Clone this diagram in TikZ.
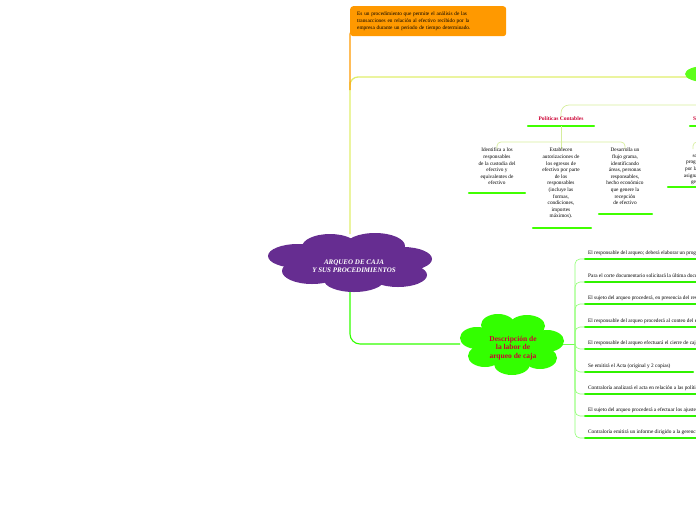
\documentclass[tikz,border=0pt]{standalone}
\usepackage{fontspec}
\setmainfont{Liberation Serif}
\begin{document}
\begin{tikzpicture}[x=1pt,y=-1pt,
  yl/.style={draw=yellow!60!green!40!white, line width=0.7pt, rounded corners=8pt},
  lime/.style={draw=green!90!black!90, line width=0.7pt, rounded corners=8pt},
  ul/.style={line width=2.3pt, draw=green!75!yellow, line cap=round},
  ulb/.style={line width=2.3pt, draw=green!90!black!80, line cap=round},
  tx/.style={font=\fontsize{5.3}{6.6}\selectfont, align=center, inner sep=0},
  it/.style={font=\fontsize{5.3}{6}\selectfont, anchor=west, inner sep=0}]
\useasboundingbox (0,0) rectangle (696,520);
\clip (0,0) rectangle (696,520);
\definecolor{purp}{HTML}{662D91}
\definecolor{org}{HTML}{FF9900}
\definecolor{lg}{HTML}{33FF00}
\definecolor{tred}{HTML}{CC0033}
% connectors
\coordinate (ctop) at (350,234);
\coordinate (cbot) at (350,290);
\draw[yl, line width=1.3pt, draw=yellow!80!green!60] (ctop) -- (350,90) -- (350,77) -- (690,77);
\draw[org, line width=1.3pt, rounded corners=4pt] (350,90) -- (350,30) -- (356,30);
\draw[lg, line width=1.1pt, rounded corners=10pt] (cbot) -- (350,344) -- (460,344);
% orange box
\node[fill=org, rounded corners=3pt, minimum width=155pt, minimum height=30pt, inner xsep=7pt, font=\fontsize{5.3}{6.6}\selectfont, align=left, text width=142pt, anchor=north west] (def) at (350,6)
 {Es un procedimiento que permite el análisis de las\\transacciones en relación al efectivo recibido por la\\empresa durante un periodo de tiempo determinado.};
% top-right lime ellipse
\fill[green!70!yellow!90] (705,74) ellipse (20 and 8);
% policies
\draw[yl] (561,119) -- (561,105) -- (696,105);
\node[font=\fontsize{5.5}{6}\selectfont\bfseries, text=tred, inner sep=0] (pol) at (561,119) {Políticas Contables};
\draw[ul] (528,126) -- (594,126);
\node[font=\fontsize{5.5}{6}\selectfont\bfseries, text=tred, inner sep=0, anchor=west] (s2) at (693,119) {S};
\draw[ul] (690,126) -- (700,126);
\draw[yl, rounded corners=4pt] (561,126) -- (561,142);
\draw[yl, rounded corners=4pt] (497,149) -- (497,142) -- (625,142) -- (625,149);
\draw[yl] (561,142) -- (561,149);
\draw[yl, rounded corners=4pt] (693,149) -- (693,142) -- (700,142);
\node[tx, anchor=north] (p1) at (497,148) {Identifica a los\\responsables\\de la custodia del\\efectivo y\\equivalentes de\\efectivo};
\draw[ul] (469,193) -- (525,193);
\node[tx, anchor=north] (p2) at (561,148) {Establecen\\autorizaciones de\\los egresos de\\efectivo por parte\\de los\\responsables\\(incluye las\\formas,\\condiciones,\\importes\\máximos).};
\draw[ul] (533,228) -- (591,228);
\node[tx, anchor=north] (p3) at (625,148) {Desarrolla un\\flujo grama,\\identificando\\áreas, personas\\responsables,\\hecho económico\\que genere la\\recepción\\de efectivo};
\draw[ul] (599,214) -- (652,214);
\node[tx, anchor=north] (p4) at (700,148) {\phantom{x}\\son los\\programados\\por la jefatura\\asignada por la\\gerencia};
\draw[ul] (668,187) -- (700,187);
% purple cloud
\begin{scope}[fill=purp]
\fill (330,247) ellipse (28 and 13);
\fill (375,246) ellipse (30 and 13);
\fill (298,256) ellipse (30 and 12);
\fill (403,259) ellipse (29 and 12);
\fill (312,271) ellipse (30 and 13);
\fill (398,275) ellipse (29 and 12);
\fill (354,280) ellipse (30 and 12);
\fill (350,262) ellipse (60 and 18);
\end{scope}
\node[tx, text=white, font=\fontsize{7}{8}\selectfont\itshape\bfseries] (root) at (354,266) {ARQUEO DE CAJA\\Y SUS PROCEDIMIENTOS};
% green cloud
\begin{scope}[fill=lg]
\fill (498,325) ellipse (17 and 11);
\fill (527,326) ellipse (18 and 11);
\fill (477,338) ellipse (17 and 11);
\fill (547,341) ellipse (17 and 11);
\fill (485,356) ellipse (17 and 11);
\fill (540,358) ellipse (17 and 11);
\fill (512,364) ellipse (18 and 11);
\fill (511,344) ellipse (40 and 18);
\end{scope}
\node[tx, text=tred, font=\fontsize{7.5}{8.3}\selectfont\bfseries] (desc) at (513,348) {Descripción de\\la labor de\\arqueo de caja};
\draw[lime, draw=lg!70!white] (563,344) -- (575,344);
% list
\foreach \y/\t/\e in {253/{El responsable del arqueo; deberá elaborar un programa}/700,
 276/{Para el corte documentario solicitará la última documentación}/700,
 298/{El sujeto del arqueo procederá, en presencia del responsable}/700,
 321/{El responsable del arqueo procederá al conteo del efectivo}/700,
 343/{El responsable del arqueo efectuará el cierre de caja}/700,
 366/{Se emitirá el Acta (original y 2 copias)}/693,
 388/{Contraloría analizará el acta en relación a las políticas}/700,
 410/{El sujeto del arqueo procederá a efectuar los ajustes}/700,
 432/{Contraloría emitirá un informe dirigido a la gerencia}/700}{
  \node[it] at (588,\y) {\t};
  \draw[ulb, draw=lg!95!black] (585,\y+6) -- (\e,\y+6);
  \draw[draw=lg!55!white, line width=0.6pt, rounded corners=5pt] (575,344) -- (575,\y+6) -- (585,\y+6);
}
\end{tikzpicture}
\end{document}
